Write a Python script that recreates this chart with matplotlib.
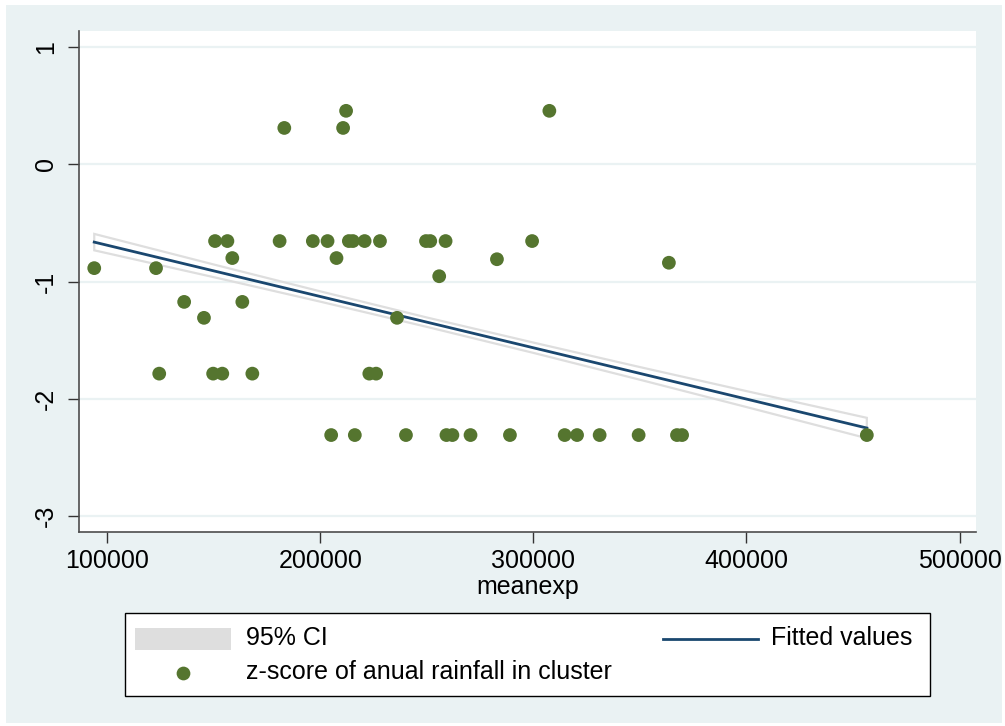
import numpy as np
import matplotlib.pyplot as plt
from matplotlib.patches import Rectangle
from matplotlib.lines import Line2D

plt.rcParams['font.family'] = ['Liberation Sans', 'DejaVu Sans']

# scatter: mean expenditure vs z-score of annual rainfall
meanexp = [212100, 307500,
           183100, 210700,
           150600, 156400, 180900, 196500, 203400, 213400, 215300, 220800,
           228000, 249600, 251600, 258800, 299400,
           158700, 207600, 282900,
           363600,
           93900, 122900,
           255800,
           136100, 163400,
           145400, 236000,
           124400, 149700, 154000, 168100, 223000, 226200,
           205100, 216200, 240200, 259200, 262000, 270500, 289000, 314700,
           320500, 331100, 349400, 367400, 369800, 456500]
zrain = [0.456, 0.456,
         0.31, 0.31,
         -0.655, -0.655, -0.655, -0.655, -0.655, -0.655, -0.655, -0.655,
         -0.655, -0.655, -0.655, -0.655, -0.655,
         -0.80, -0.80, -0.81,
         -0.84,
         -0.886, -0.886,
         -0.955,
         -1.174, -1.174,
         -1.31, -1.31,
         -1.786, -1.786, -1.786, -1.786, -1.786, -1.786,
         -2.31, -2.31, -2.31, -2.31, -2.31, -2.31, -2.31, -2.31,
         -2.31, -2.31, -2.31, -2.31, -2.31, -2.31]

# fitted values and 95% CI
fit_x = [93900, 456500]
fit_y = [-0.664, -2.250]
ci_x = [93900, 150000, 200000, 250000, 300000, 350000, 400000, 456500]
ci_hi = [-0.594, -0.855, -1.084, -1.307, -1.521, -1.730, -1.935, -2.163]
ci_lo = [-0.734, -0.963, -1.172, -1.387, -1.609, -1.838, -2.071, -2.337]

xticks = [100000, 200000, 300000, 400000, 500000]
yticks = [-3, -2, -1, 0, 1]

W, H = 1005, 726
bg = '#EAF2F3'
navy = '#1A476F'
green = '#55752F'
cigray = '#DEDEDE'
fs = 18

fig = plt.figure(figsize=(W / 100, H / 100), dpi=100, facecolor='white')
fig.patches.append(Rectangle((6 / W, 1 - 723 / H), 996 / W, 718 / H,
                             transform=fig.transFigure, facecolor=bg,
                             edgecolor='none', zorder=-5))

ax = fig.add_axes([79 / W, 1 - 532 / H, 896.5 / W, 501 / H])
ax.set_facecolor('white')

# CI band drawn as outline
ax.fill(ci_x + ci_x[::-1], ci_hi + ci_lo[::-1], facecolor='none',
        edgecolor=cigray, linewidth=1.6, zorder=2)
ax.plot(fit_x, fit_y, color=navy, linewidth=2.0, zorder=3)
ax.scatter(meanexp, zrain, s=98, color=green, edgecolors='none', zorder=4)

ax.set_xlim(86750, 507500)
ax.set_ylim(-3.137, 1.137)
ax.set_xticks(xticks)
ax.set_yticks(yticks)
ax.set_xticklabels([str(t) for t in xticks])
ax.set_yticklabels([str(t) for t in yticks])
ax.grid(axis='y', color=bg, linewidth=1.6, zorder=1)
ax.set_axisbelow(True)

for s in ['top', 'right']:
    ax.spines[s].set_visible(False)
for s in ['left', 'bottom']:
    ax.spines[s].set_color('#4D4D4D')
    ax.spines[s].set_linewidth(1.2)

ax.tick_params(axis='both', length=8, width=1.0, color='#333333',
               labelsize=fs, labelcolor='black')
ax.tick_params(axis='x', pad=4)
ax.tick_params(axis='y', pad=7, labelrotation=90)
for lab in ax.get_yticklabels():
    lab.set_va('center')

ax.set_xlabel('meanexp', fontsize=fs, labelpad=2)

# legend box
def fx(px):
    return px / W

def fy(py):
    return 1 - py / H

fig.patches.append(Rectangle((fx(125), fy(696)), fx(930) - fx(125), fy(613) - fy(696),
                             transform=fig.transFigure, facecolor='white',
                             edgecolor='black', linewidth=1.0, zorder=5))
fig.patches.append(Rectangle((fx(135), fy(650)), fx(231) - fx(135), fy(628) - fy(650),
                             transform=fig.transFigure, facecolor=cigray,
                             edgecolor='none', zorder=6))
fig.lines.append(Line2D([fx(663), fx(758)], [fy(639), fy(639)],
                        transform=fig.transFigure, color=navy, linewidth=2.0, zorder=6))
fig.lines.append(Line2D([fx(183)], [fy(673)], transform=fig.transFigure,
                        marker='o', markersize=9.9, color=green,
                        markeredgecolor='none', linestyle='none', zorder=6))
fig.text(fx(246), fy(638), '95% CI', fontsize=fs, va='center', ha='left', zorder=7)
fig.text(fx(771), fy(638), 'Fitted values', fontsize=fs, va='center', ha='left', zorder=7)
fig.text(fx(246), fy(672), 'z-score of anual rainfall in cluster', fontsize=fs,
         va='center', ha='left', zorder=7)

fig.savefig('out.png', dpi=100, facecolor='white')
